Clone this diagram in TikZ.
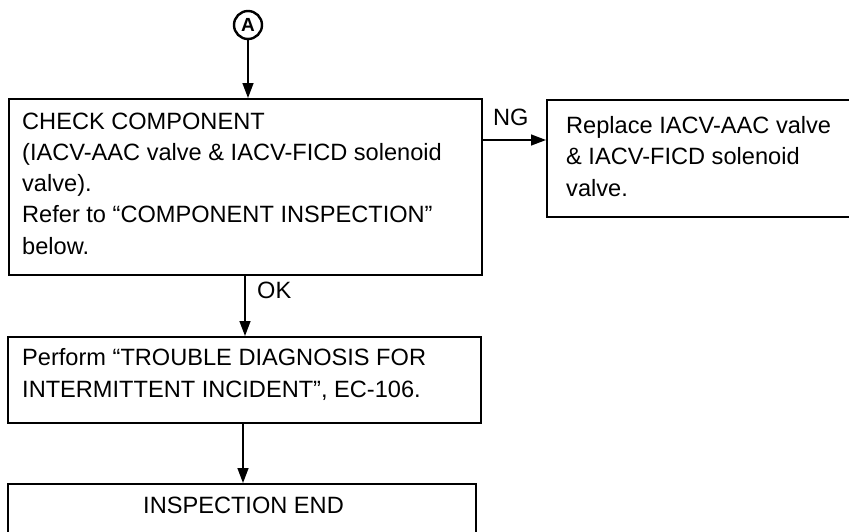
\documentclass[tikz,border=0pt]{standalone}
\usepackage{fontspec}
\setmainfont{Liberation Sans}
\usetikzlibrary{arrows.meta,calc}
\begin{document}
\begin{tikzpicture}[x=1pt,y=-1pt,
  box/.style={draw,line width=1.8pt,rectangle,inner sep=0pt,anchor=north west},
  txt/.style={anchor=base west,inner sep=0pt,align=left,font=\fontsize{23.6}{31.2}\selectfont},
  lbl/.style={inner sep=0pt,font=\fontsize{23.6}{31.2}\selectfont},
  conn/.style={line width=1.4pt,-{Triangle[length=15pt,width=11pt]}}]
\useasboundingbox (0,0) rectangle (849,531);
\clip (0,0) rectangle (849,531);
\fill[white] (0,0) rectangle (849,531);
% circled A
\node[draw,circle,line width=2.4pt,minimum size=28pt,inner sep=0pt,font=\bfseries\fontsize{19}{19}\selectfont] (a) at (248,25) {A};
% boxes
\node[box,minimum width=473pt,minimum height=176pt] (b1) at (8,98) {};
\node[box,minimum width=330pt,minimum height=117pt] (b2) at (546,99) {};
\node[box,minimum width=473pt,minimum height=86pt] (b3) at (7,336) {};
\node[box,minimum width=468pt,minimum height=70pt] (b4) at (7,483) {};
% texts (base anchor = last line's baseline)
\node[txt] (t1) at (22,254) {CHECK COMPONENT\\(IACV-AAC valve \& IACV-FICD solenoid\\valve).\\Refer to “COMPONENT INSPECTION”\\below.};
\node[txt] (t2) at (566,196) {Replace IACV-AAC valve\\\& IACV-FICD solenoid\\valve.};
\node[txt] (t3) at (22,397) {Perform “TROUBLE DIAGNOSIS FOR\\INTERMITTENT INCIDENT”, EC-106.};
\node[txt] (t4) at (143,513) {INSPECTION END};
% connectors
\draw[conn] (a.south) -- (a |- b1.north);
\draw[conn] ([yshift=-42pt]b1.north east) -- ([yshift=-42pt]b1.north east -| b2.west);
\node[lbl,anchor=base west] (ng) at (493,125) {NG};
\coordinate (okx) at (245,0);
\draw[conn] (okx |- b1.south) -- (okx |- b3.north);
\node[lbl,anchor=base west] (ok) at (257,298) {OK};
\coordinate (endx) at (243,0);
\draw[conn] (endx |- b3.south) -- (endx |- b4.north);
\end{tikzpicture}
\end{document}
